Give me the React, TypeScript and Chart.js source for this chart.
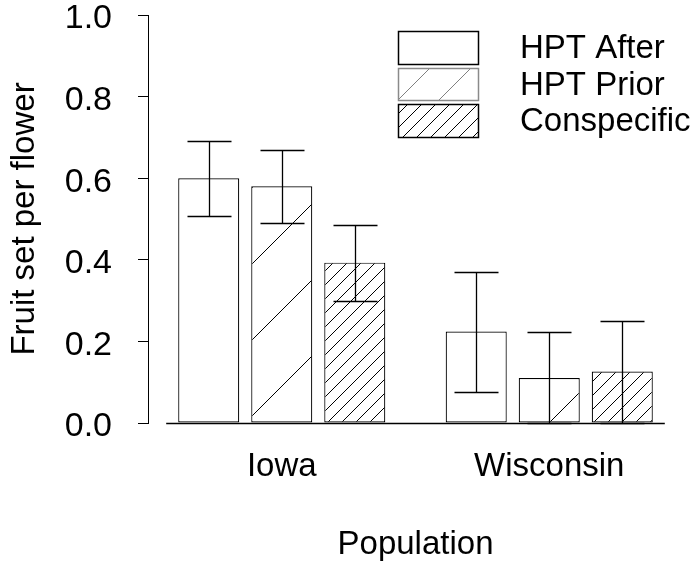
import React, { useEffect, useRef } from "react";
import { Chart, registerables } from "chart.js";

Chart.register(...registerables);

const categories = ["Iowa", "Wisconsin"];
const seriesLabels = ["HPT After", "HPT Prior", "Conspecific"];
const hptAfter = [0.6, 0.224];
const hptPrior = [0.58, 0.11];
const conspecific = [0.393, 0.126];
const hptAfterLow = [0.508, 0.075];
const hptAfterHigh = [0.691, 0.369];
const hptPriorLow = [0.489, 0.0];
const hptPriorHigh = [0.67, 0.222];
const conspecificLow = [0.298, 0.0];
const conspecificHigh = [0.486, 0.25];
const yTicks = [0, 0.2, 0.4, 0.6, 0.8, 1.0];
const xTitle = "Population";
const yTitle = "Fruit set per flower";

const FONT = "'Liberation Sans', Arial, sans-serif";

function makeHatch(period: number, offset: number, color: string, lw: number): CanvasPattern | string {
  const c = document.createElement("canvas");
  c.width = period;
  c.height = period;
  const g = c.getContext("2d");
  if (!g) return "#fff";
  g.fillStyle = "#fff";
  g.fillRect(0, 0, period, period);
  g.strokeStyle = color;
  g.lineWidth = lw;
  for (let k = -2; k <= 2; k++) {
    const s = offset + k * period;
    g.beginPath();
    g.moveTo(s + 2, -2);
    g.lineTo(-2, s + 2);
    g.stroke();
  }
  const p = g.createPattern(c, "repeat");
  return p || "#fff";
}

const lows = [hptAfterLow, hptPriorLow, conspecificLow];
const highs = [hptAfterHigh, hptPriorHigh, conspecificHigh];

const extrasPlugin = {
  id: "extras",
  afterDatasetsDraw(chart: any) {
    const ctx = chart.ctx as CanvasRenderingContext2D;
    const yScale = chart.scales.y;
    ctx.save();
    ctx.strokeStyle = "#000";
    ctx.lineWidth = 1.3;
    // error bars
    chart.data.datasets.forEach((_: any, i: number) => {
      const meta = chart.getDatasetMeta(i);
      meta.data.forEach((el: any, j: number) => {
        const x = Math.round(el.x) + 0.5;
        const yl = Math.round(yScale.getPixelForValue(lows[i][j])) + 0.5;
        const yh = Math.round(yScale.getPixelForValue(highs[i][j])) + 0.5;
        ctx.beginPath();
        ctx.moveTo(x, yl);
        ctx.lineTo(x, yh);
        ctx.moveTo(x - 22, yh);
        ctx.lineTo(x + 22, yh);
        ctx.moveTo(x - 22, yl);
        ctx.lineTo(x + 22, yl);
        ctx.stroke();
      });
    });
    // baseline
    const first = chart.getDatasetMeta(0).data[0];
    const lastMeta = chart.getDatasetMeta(chart.data.datasets.length - 1);
    const last = lastMeta.data[lastMeta.data.length - 1];
    const left = first.x - first.width / 2 - 12;
    const right = last.x + last.width / 2 + 12;
    const y0 = Math.round(yScale.getPixelForValue(0)) + 0.5;
    ctx.lineWidth = 1.5;
    ctx.beginPath();
    ctx.moveTo(left, y0);
    ctx.lineTo(right, y0);
    ctx.stroke();
    ctx.restore();
  },
  afterDraw(chart: any) {
    const ctx = chart.ctx as CanvasRenderingContext2D;
    const boxX = 398;
    const boxW = 81;
    const boxes = [
      { y: 31, h: 34 },
      { y: 68, h: 33 },
      { y: 104, h: 34 },
    ];
    const fills = [
      "#fff",
      makeHatch(41, 6, "#808080", 1),
      makeHatch(14, 8, "#000", 1),
    ];
    const borders = ["#000", "#8a8a8a", "#000"];
    ctx.save();
    boxes.forEach((b, i) => {
      ctx.fillStyle = fills[i] as any;
      ctx.fillRect(boxX, b.y, boxW, b.h);
      ctx.strokeStyle = borders[i];
      ctx.lineWidth = 1.5;
      ctx.strokeRect(boxX + 0.5, b.y + 0.5, boxW - 1, b.h - 1);
      ctx.fillStyle = "#000";
      ctx.font = `33px ${FONT}`;
      ctx.textBaseline = "middle";
      ctx.textAlign = "left";
      ctx.fillText(chart.data.datasets[i].label, 520, b.y + b.h / 2 + 1);
    });
    ctx.restore();
  },
};

export default function App() {
  const ref = useRef<HTMLCanvasElement | null>(null);
  useEffect(() => {
    if (!ref.current) return;
    const sparse = makeHatch(76, 60, "#000", 1);
    const dense = makeHatch(14, 8, "#000", 1);
    const common = {
      borderColor: "#000",
      borderWidth: 1.2,
      borderSkipped: false,
      categoryPercentage: 0.819,
      barPercentage: 0.836,
    };
    const chart = new Chart(ref.current, {
      type: "bar",
      data: {
        labels: categories,
        datasets: [
          { label: seriesLabels[0], data: hptAfter, backgroundColor: "#fff", ...common },
          { label: seriesLabels[1], data: hptPrior, backgroundColor: sparse as any, ...common },
          { label: seriesLabels[2], data: conspecific, backgroundColor: dense as any, ...common },
        ],
      } as any,
      options: {
        animation: false,
        responsive: false,
        maintainAspectRatio: false,
        devicePixelRatio: 1,
        layout: { padding: { top: 15, right: 12, left: 0, bottom: 0 } },
        plugins: { legend: { display: false }, tooltip: { enabled: false } },
        scales: {
          x: {
            type: "category",
            grid: { display: false, drawTicks: false },
            border: { display: false },
            ticks: { color: "#000", font: { family: FONT, size: 33 }, padding: 24, maxRotation: 0, autoSkip: false },
            title: {
              display: true,
              text: xTitle,
              color: "#000",
              font: { family: FONT, size: 33 },
              padding: { top: 0, bottom: 10 },
            },
            afterFit: (s: any) => {
              s.height = 152;
              s.paddingLeft = 0;
              s.paddingRight = 0;
            },
          },
          y: {
            min: 0,
            max: 1,
            afterBuildTicks: (s: any) => {
              s.ticks = yTicks.map((v) => ({ value: v }));
            },
            grid: { drawOnChartArea: false, drawTicks: true, tickLength: 10, color: "#000", lineWidth: 1 },
            border: { display: true, color: "#000", width: 1 },
            ticks: {
              color: "#000",
              font: { family: FONT, size: 34, lineHeight: 0.8 },
              padding: 26,
              labelOffset: 4,
              callback: (v: any) => Number(v).toFixed(1),
            },
            title: {
              display: true,
              text: yTitle,
              color: "#000",
              font: { family: FONT, size: 33 },
              padding: { top: 5, bottom: 0 },
            },
            afterFit: (s: any) => {
              s.width = 148;
              s.paddingTop = 0;
              s.paddingBottom = 0;
            },
          },
        },
      } as any,
      plugins: [extrasPlugin],
    });
    return () => chart.destroy();
  }, []);
  return (
    <div style={{ position: "fixed", left: 0, top: 0, width: 695, height: 575, background: "#fff" }}>
      <canvas ref={ref} width={695} height={575} style={{ display: "block" }} />
    </div>
  );
}
